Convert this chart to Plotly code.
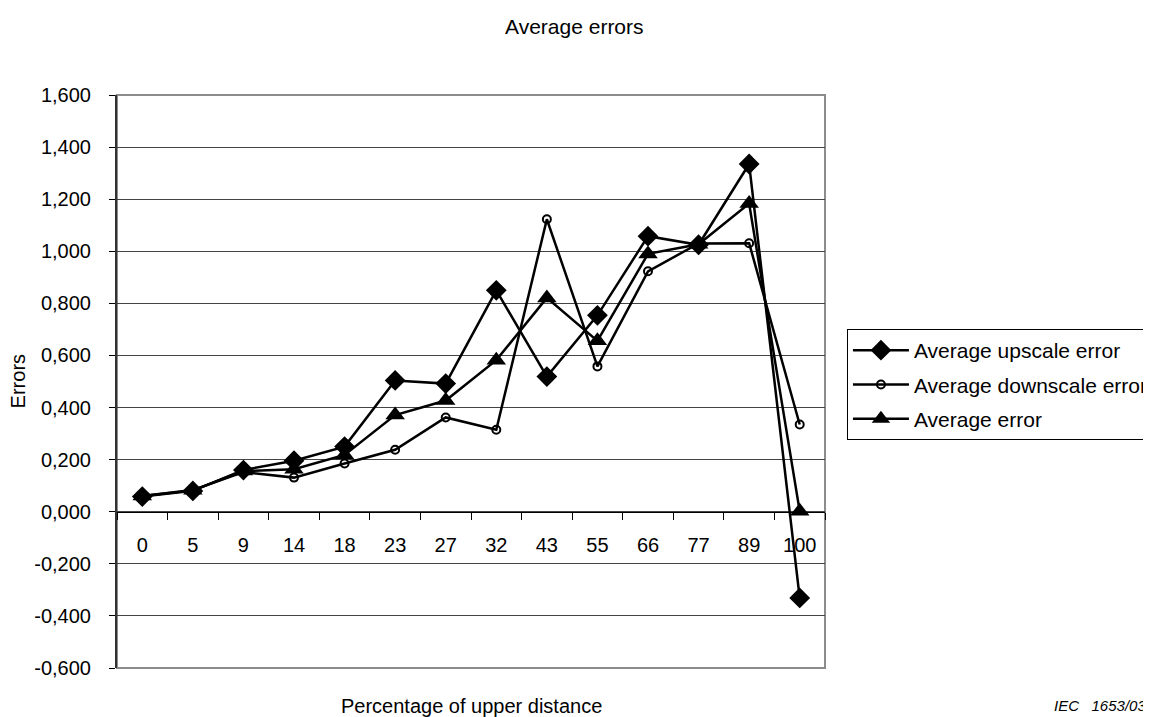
import plotly.graph_objects as go

categories = ["0", "5", "9", "14", "18", "23", "27", "32", "43", "55", "66", "77", "89", "100"]
upscale = [0.058, 0.080, 0.160, 0.196, 0.250, 0.504, 0.492, 0.850, 0.519, 0.754, 1.058, 1.025, 1.335, -0.331]
downscale = [0.060, 0.083, 0.152, 0.131, 0.185, 0.238, 0.362, 0.315, 1.123, 0.558, 0.923, 1.030, 1.031, 0.335]
average = [0.060, 0.082, 0.156, 0.163, 0.218, 0.371, 0.427, 0.582, 0.821, 0.656, 0.990, 1.027, 1.183, 0.002]

y_tickvals = [-0.6, -0.4, -0.2, 0.0, 0.2, 0.4, 0.6, 0.8, 1.0, 1.2, 1.4, 1.6]
y_ticktext = ["-0,600", "-0,400", "-0,200", "0,000", "0,200", "0,400", "0,600", "0,800",
              "1,000", "1,200", "1,400", "1,600"]
y_min, y_max = -0.6, 1.6

FONT = "Liberation Sans, Arial, sans-serif"
FS = 20

fig = go.Figure()
fig.add_trace(go.Scatter(x=categories, y=upscale, mode="lines+markers", name="Average upscale error",
                         legendgroup="a",
                         line=dict(color="black", width=2.5),
                         marker=dict(symbol="diamond", size=16, color="black")))
fig.add_trace(go.Scatter(x=categories, y=downscale, mode="lines+markers", name="Average downscale error",
                         legendgroup="b",
                         line=dict(color="black", width=2.5),
                         marker=dict(symbol="circle-open", size=8, color="black", line=dict(width=2))))
fig.add_trace(go.Scatter(x=categories, y=average, mode="lines+markers", name="Average error",
                         legendgroup="c",
                         line=dict(color="black", width=2.5),
                         marker=dict(symbol="triangle-up", size=17, color="black")))

zero_pos = (0 - y_min) / (y_max - y_min)

fig.update_layout(
    width=1151, height=717,
    margin=dict(l=109, r=334, t=87, b=57, autoexpand=False),
    paper_bgcolor="white", plot_bgcolor="white",
    font=dict(family=FONT, size=FS, color="black"),
    title=dict(text="Average errors", x=0.492, xref="container", xanchor="center",
               y=0.9735, yref="container", yanchor="middle",
               font=dict(family=FONT, size=21, color="black")),
    showlegend=True,
    legend=dict(x=1.031, xanchor="left", y=0.5915, yanchor="top",
                bordercolor="black", borderwidth=1, bgcolor="white",
                font=dict(family=FONT, size=21, color="black"),
                itemwidth=56,
                tracegroupgap=4, traceorder="grouped"),
    xaxis=dict(type="category", anchor="free", position=zero_pos,
               showline=True, linecolor="black", linewidth=1,
               ticks="outside", tickson="boundaries", ticklen=7, tickcolor="black",
               showgrid=False, zeroline=False,
               tickfont=dict(family=FONT, size=FS, color="black"),
               ticklabelstandoff=15,
               range=[-0.5, len(categories) - 0.5]),
    yaxis=dict(range=[y_min, y_max], tickvals=y_tickvals, ticktext=y_ticktext,
               showline=True, linecolor="#333", linewidth=2,
               ticks="outside", ticklen=6, tickcolor="black",
               showgrid=True, gridcolor="#444", gridwidth=1, zeroline=False,
               tickfont=dict(family=FONT, size=FS, color="black"),
               ticklabelstandoff=14),
)

fig.add_shape(type="rect", xref="paper", yref="paper", x0=0, x1=1, y0=0, y1=1,
              line=dict(color="#8c8c8c", width=2), layer="below")

fig.add_annotation(text="Errors", xref="paper", yref="paper", textangle=-90,
                   x=-0.14, y=0.5, xanchor="center", yanchor="middle", showarrow=False,
                   font=dict(family=FONT, size=FS, color="black"))
fig.add_annotation(text="Percentage of upper distance", xref="paper", yref="paper",
                   x=0.5, y=-0.066, xanchor="center", yanchor="middle", showarrow=False,
                   font=dict(family=FONT, size=FS, color="black"))
fig.add_annotation(text="<i>IEC   1653/03</i>", xref="paper", yref="paper",
                   x=1.3206, y=-0.066, xanchor="left", yanchor="middle", showarrow=False,
                   font=dict(family=FONT, size=15, color="black"))

fig.write_html("out.html")
